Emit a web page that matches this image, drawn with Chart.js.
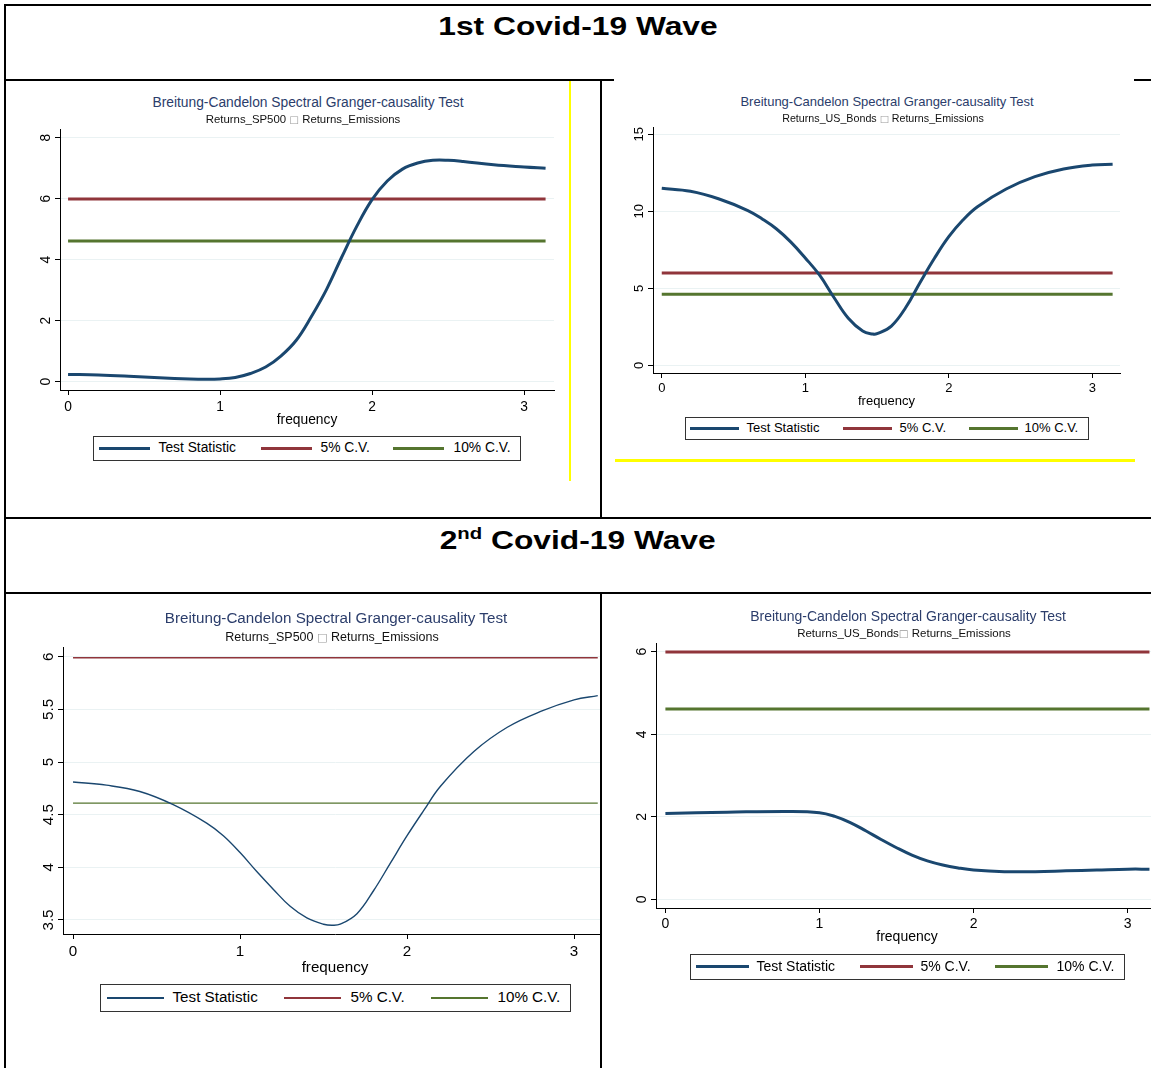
<!DOCTYPE html>
<html>
<head>
<meta charset="utf-8">
<title>Breitung-Candelon Spectral Granger-causality Test</title>
<script src="https://cdn.jsdelivr.net/npm/chart.js@4.4.1/dist/chart.umd.min.js"></script>
<style>
  html, body { margin: 0; padding: 0; background: #fff; }
  body { position: relative; width: 1151px; height: 1068px; overflow: hidden; font-family: "Liberation Sans", Arial, Helvetica, sans-serif; }
  .rule { position: absolute; background: #000; z-index: 5; }
  .yel { position: absolute; background: #ffff00; z-index: 5; }
  .wave { position: absolute; left: 5px; width: 1146px; text-align: center; font-weight: bold; font-size: 25px; line-height: 25px; color: #000; }
  .wave .in { display: inline-block; transform: scaleX(1.27); }
  .wave sup { font-size: 16px; line-height: 0; vertical-align: 10px; }
  .ttl, .sub { position: absolute; width: 600px; text-align: center; white-space: nowrap; }
  .ttl { color: #2b3d6b; }
  .sub { color: #111; }
  .tofu { color: #9a9a9a; font-family: "DejaVu Sans", sans-serif; font-size: 0.9em; }
  .leg { position: absolute; border: 1.5px solid #333; background: #fff; box-sizing: border-box; }
  .sw { position: absolute; }
  .lt { position: absolute; white-space: nowrap; color: #000; }
  canvas { position: absolute; }
  .clip { position: absolute; left: 0; top: 0; overflow: hidden; }
</style>
</head>
<body>

<div class="wave" style="top:14px"><span class="in">1st Covid-19 Wave</span></div>
<div class="wave" style="top:528px"><span class="in">2<sup>nd</sup> Covid-19 Wave</span></div>

<!-- table rules -->
<div class="rule" style="left:4px;top:4px;width:1147px;height:2px"></div>
<div class="rule" style="left:4px;top:4px;width:2px;height:1064px"></div>
<div class="rule" style="left:4px;top:79px;width:610px;height:2px"></div>
<div class="rule" style="left:1134px;top:79px;width:17px;height:2px"></div>
<div class="rule" style="left:4px;top:517px;width:1147px;height:2px"></div>
<div class="rule" style="left:4px;top:592px;width:1147px;height:2px"></div>
<div class="rule" style="left:600px;top:80px;width:2px;height:438px"></div>
<div class="rule" style="left:600px;top:593px;width:2px;height:475px"></div>
<div class="yel" style="left:569px;top:81px;width:2px;height:400px"></div>
<div class="yel" style="left:615px;top:459px;width:520px;height:3px"></div>

<script>
// values
const xTickVals = [0, 1, 2, 3];
const cv5 = 5.99;
const cv10 = 4.61;
const seriesNames = ['Test Statistic', '5% C.V.', '10% C.V.'];
const seriesColors = ['#1a476f', '#90353b', '#55752f'];

// 1st wave: Returns_SP500 -> Returns_Emissions
const freqW1a = [0, 0.2, 0.4, 0.6, 0.8, 0.9, 1.0, 1.1, 1.2, 1.3, 1.4, 1.5, 1.6, 1.7, 1.8, 1.9, 2.0, 2.1, 2.2, 2.3, 2.4, 2.5, 2.6, 2.8, 3.0, 3.1416];
const statW1a = [0.24, 0.22, 0.18, 0.13, 0.09, 0.08, 0.09, 0.14, 0.27, 0.48, 0.84, 1.35, 2.13, 3.02, 4.08, 5.1, 5.97, 6.58, 6.97, 7.17, 7.26, 7.26, 7.22, 7.11, 7.04, 7.0];
const yTicksW1a = [0, 2, 4, 6, 8];

// 1st wave: Returns_US_Bonds -> Returns_Emissions
const freqW1b = [0, 0.2, 0.4, 0.6, 0.7, 0.8, 0.9, 1.0, 1.1, 1.2, 1.3, 1.4, 1.47, 1.5, 1.6, 1.7, 1.8, 1.9, 2.0, 2.1, 2.2, 2.4, 2.6, 2.8, 3.0, 3.1416];
const statW1b = [11.49, 11.3, 10.8, 10.05, 9.5, 8.85, 8.0, 6.97, 5.85, 4.4, 3.05, 2.22, 2.03, 2.05, 2.55, 3.75, 5.38, 6.95, 8.35, 9.45, 10.3, 11.45, 12.25, 12.75, 13.0, 13.05];
const yTicksW1b = [0, 5, 10, 15];

// 2nd wave: Returns_SP500 -> Returns_Emissions
const freqW2a = [0, 0.2, 0.4, 0.6, 0.8, 0.9, 1.0, 1.1, 1.2, 1.3, 1.4, 1.5, 1.55, 1.6, 1.7, 1.8, 1.9, 2.0, 2.1, 2.2, 2.4, 2.6, 2.8, 3.0, 3.1416];
const statW2a = [4.81, 4.78, 4.72, 4.595, 4.42, 4.3, 4.14, 3.96, 3.79, 3.63, 3.52, 3.46, 3.45, 3.46, 3.56, 3.78, 4.04, 4.3, 4.54, 4.77, 5.1, 5.33, 5.48, 5.59, 5.63];
const yTicksW2a = [3.5, 4, 4.5, 5, 5.5, 6];

// 2nd wave: Returns_US_Bonds -> Returns_Emissions
const freqW2b = [0, 0.4, 0.8, 1.0, 1.1, 1.2, 1.3, 1.4, 1.5, 1.6, 1.7, 1.8, 1.9, 2.0, 2.2, 2.4, 2.6, 2.8, 3.0, 3.1416];
const statW2b = [2.08, 2.11, 2.13, 2.1, 2.01, 1.86, 1.66, 1.45, 1.25, 1.07, 0.93, 0.83, 0.76, 0.71, 0.67, 0.67, 0.69, 0.71, 0.73, 0.73];
const yTicksW2b = [0, 2, 4, 6];

const TITLE = 'Breitung-Candelon Spectral Granger-causality Test';

// page layout of each panel (plot area in page px)
const panels = [
  { freq: freqW1a, stat: statW1a, yTicks: yTicksW1a, x: [-0.053, 3.197], y: [-0.272, 8.285],
    area: [60, 129, 554, 390], xH: 38, font: 13.8, lw: 3, tickPad: 4,
    title: [308, 103], sub: [303, 120, 11.4, 'Returns_SP500', ' ', ' Returns_Emissions'],
    leg: { box: [93, 436, 428, 25], sw: [99, 261, 393], swW: 51, tx: [159, 321, 454] } },
  { freq: freqW1b, stat: statW1b, yTicks: yTicksW1b, x: [-0.061, 3.193], y: [-0.5, 15.474],
    area: [653, 127, 1120, 373], xH: 36, font: 13, lw: 3, tickPad: 3,
    title: [887, 102], sub: [883, 118, 10.7, 'Returns_US_Bonds', ' ', ' Returns_Emissions'],
    leg: { box: [685, 417, 404, 23], sw: [690, 843, 969], swW: 49, tx: [747, 900, 1025] } },
  { freq: freqW2a, stat: statW2a, yTicks: yTicksW2a, x: [-0.06, 3.197], y: [3.367, 6.092],
    area: [63, 647, 607, 934], xH: 43, font: 15.2, lw: 1.4, tickPad: 4, clip: 600,
    title: [336, 618], sub: [332, 637, 12.5, 'Returns_SP500', ' ', ' Returns_Emissions'],
    leg: { box: [100, 984, 471, 28], sw: [107, 284, 431], swW: 57, tx: [173, 351, 498] } },
  { freq: freqW2b, stat: statW2b, yTicks: yTicksW2b, x: [-0.061, 3.197], y: [-0.211, 6.211],
    area: [656, 643, 1158, 908], xH: 38, font: 14, lw: 3, tickPad: 3,
    title: [908, 616], sub: [904, 634, 11.5, 'Returns_US_Bonds', '', ' Returns_Emissions'],
    leg: { box: [690, 954, 435, 26], sw: [696, 860, 995], swW: 53, tx: [757, 921, 1057] } }
];

// Stata draws the y labels turned 90 degrees
const yLabels = {
  id: 'yLabels',
  afterDraw(chart, args, opts) {
    const s = chart.scales.y, ctx = chart.ctx;
    ctx.save();
    ctx.fillStyle = '#000';
    ctx.font = opts.size + 'px "Liberation Sans", Arial, sans-serif';
    ctx.textAlign = 'center';
    ctx.textBaseline = 'alphabetic';
    s.ticks.forEach(t => {
      ctx.save();
      ctx.translate(chart.chartArea.left - opts.gap, s.getPixelForValue(t.value));
      ctx.rotate(-Math.PI / 2);
      ctx.fillText(String(t.value), 0, 0);
      ctx.restore();
    });
    ctx.restore();
  }
};

function addText(cls, cx, cy, size, html) {
  const d = document.createElement('div');
  d.className = cls;
  d.style.left = (cx - 300) + 'px';
  d.style.top = (cy - size * 0.6) + 'px';
  d.style.fontSize = size + 'px';
  d.style.lineHeight = (size * 1.2) + 'px';
  d.innerHTML = html;
  document.body.appendChild(d);
}

function addLegend(p) {
  const [bx, by, bw, bh] = p.leg.box;
  const box = document.createElement('div');
  box.className = 'leg';
  Object.assign(box.style, { left: bx + 'px', top: by + 'px', width: bw + 'px', height: bh + 'px' });
  const sh = Math.max(Math.round(p.lw), 2);
  seriesNames.forEach((name, i) => {
    const sw = document.createElement('div');
    sw.className = 'sw';
    Object.assign(sw.style, { left: (p.leg.sw[i] - bx - 1.5) + 'px', top: Math.round(bh / 2 - 1.5 - sh / 2) + 'px',
      width: p.leg.swW + 'px', height: sh + 'px', background: seriesColors[i] });
    const tx = document.createElement('div');
    tx.className = 'lt';
    Object.assign(tx.style, { left: (p.leg.tx[i] - bx - 1.5) + 'px', top: (bh / 2 - 1.5 - p.font * 0.6) + 'px',
      fontSize: p.font + 'px', lineHeight: (p.font * 1.2) + 'px' });
    tx.textContent = name;
    box.appendChild(sw);
    box.appendChild(tx);
  });
  document.body.appendChild(box);
}

function drawPanel(p) {
  const [L, T, R, B] = p.area;
  const yW = 40, padT = 12, padR = 14;
  const cv = document.createElement('canvas');
  cv.width = yW + (R - L) + padR;
  cv.height = padT + (B - T) + p.xH;
  cv.style.left = (L - yW) + 'px';
  cv.style.top = (T - padT) + 'px';
  if (p.clip) {
    const wrap = document.createElement('div');
    wrap.className = 'clip';
    wrap.style.width = p.clip + 'px';
    wrap.style.height = '1068px';
    wrap.appendChild(cv);
    document.body.appendChild(wrap);
  } else {
    document.body.appendChild(cv);
  }

  const last = p.freq[p.freq.length - 1];
  const flat = v => [{ x: p.freq[0], y: v }, { x: last, y: v }];
  const font = { family: '"Liberation Sans", Arial, sans-serif', size: p.font };

  new Chart(cv, {
    type: 'line',
    data: {
      datasets: [
        { label: seriesNames[0], data: p.freq.map((f, i) => ({ x: f, y: p.stat[i] })), borderColor: seriesColors[0],
          borderWidth: p.lw, pointRadius: 0, tension: 0.4 },
        { label: seriesNames[1], data: flat(cv5), borderColor: seriesColors[1], borderWidth: p.lw, pointRadius: 0 },
        { label: seriesNames[2], data: flat(cv10), borderColor: seriesColors[2], borderWidth: p.lw, pointRadius: 0 }
      ]
    },
    options: {
      responsive: false,
      animation: false,
      devicePixelRatio: 1,
      layout: { padding: { top: padT, right: padR, left: 0, bottom: 0 } },
      plugins: { legend: { display: false }, tooltip: { enabled: false }, yLabels: { size: p.font, gap: 10 } },
      scales: {
        x: {
          type: 'linear', min: p.x[0], max: p.x[1],
          afterBuildTicks: s => { s.ticks = xTickVals.map(v => ({ value: v })); },
          afterFit: s => { s.height = p.xH; },
          ticks: { color: '#000', font, padding: p.tickPad, maxRotation: 0, callback: v => String(v) },
          grid: { drawOnChartArea: false, drawTicks: true, tickLength: 5, tickColor: '#000', tickWidth: 1 },
          border: { display: true, color: '#000', width: 1 },
          title: { display: true, text: 'frequency', color: '#000', font, padding: 0 }
        },
        y: {
          type: 'linear', min: p.y[0], max: p.y[1],
          afterBuildTicks: s => { s.ticks = p.yTicks.map(v => ({ value: v })); },
          afterFit: s => { s.width = yW; },
          ticks: { display: false },
          grid: { color: '#eaf2f3', lineWidth: 1, drawTicks: true, tickLength: 5, tickColor: '#000', tickWidth: 1 },
          border: { display: true, color: '#000', width: 1 }
        }
      }
    },
    plugins: [yLabels]
  });

  addText('ttl', p.title[0], p.title[1], p.font, TITLE);
  addText('sub', p.sub[0], p.sub[1], p.sub[2], p.sub[3] + p.sub[4] + '<span class="tofu">&#9633;</span>' + p.sub[5]);
  addLegend(p);
}

panels.forEach(drawPanel);
</script>
</body>
</html>
